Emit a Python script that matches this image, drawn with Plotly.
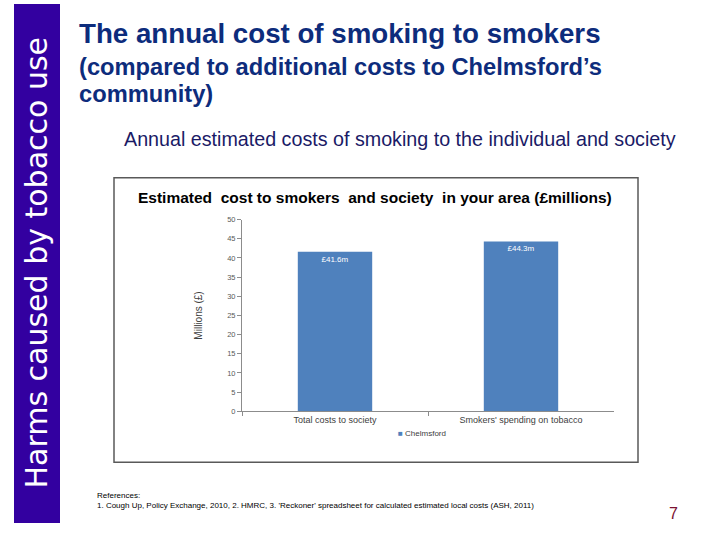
import plotly.graph_objects as go

categories = ["Total costs to society", "Smokers' spending on tobacco"]
values = [41.6, 44.3]
value_labels = ["£41.6m", "£44.3m"]
series_name = "Chelmsford"
y_ticks = [0, 5, 10, 15, 20, 25, 30, 35, 40, 45, 50]

W, H = 720, 540
def px(x): return x / W
def py(y): return 1 - ((y - 4) / 0.985) / H

BAR_COLOR = "#4F81BD"

fig = go.Figure()
fig.add_trace(go.Bar(
    x=categories, y=values, name=series_name,
    marker=dict(color=BAR_COLOR, line=dict(width=0)),
    width=0.4,
    text=value_labels, textposition="inside", insidetextanchor="end",
    textfont=dict(color="white", size=8, family="Liberation Sans"),
    showlegend=False,
))

font = "Liberation Sans, Arial, sans-serif"

fig.update_layout(
    width=W, height=H,
    margin=dict(l=0, r=0, t=0, b=0),
    paper_bgcolor="white", plot_bgcolor="white",
    font=dict(family=font),
    xaxis=dict(domain=[px(242), px(614)], showline=True, linecolor="#8c8c8c", linewidth=1,
               ticks="outside", tickson="boundaries", ticklen=4, tickcolor="#8c8c8c",
               tickfont=dict(size=9, color="#404040"), showgrid=False, fixedrange=True),
    yaxis=dict(domain=[py(412), py(220)], range=[0, 50], tickvals=y_ticks,
               showline=True, linecolor="#8c8c8c", linewidth=1, ticks="outside", ticklen=4,
               tickcolor="#8c8c8c", tickfont=dict(size=7.5, color="#595959"), showgrid=False,
               zeroline=False, fixedrange=True,
               title=dict(text="Millions (£)", font=dict(size=10, color="#404040"), standoff=22)),
    showlegend=False,
)

shapes = [
    dict(type="rect", xref="paper", yref="paper", x0=px(14), x1=px(60), y0=py(524), y1=1,
         fillcolor="#3300A0", line=dict(width=0), layer="below"),
    dict(type="rect", xref="paper", yref="paper", x0=px(114), x1=px(638), y0=py(463), y1=py(178),
         fillcolor="rgba(0,0,0,0)", line=dict(color="#595959", width=1.5)),
]
fig.update_layout(shapes=shapes)

annotations = [
    dict(text="Harms caused by tobacco use", x=px(37), y=py(263), textangle=-90,
         xanchor="center", yanchor="middle",
         font=dict(family="DejaVu Sans, Verdana, sans-serif", size=30, color="white")),
    dict(text="<b>The annual cost of smoking to smokers</b>", x=px(77), y=py(34),
         xanchor="left", yanchor="middle",
         font=dict(family=font, size=27.7, color="#0D2C7C")),
    dict(text="<b>(compared to additional costs to Chelmsford’s</b>", x=px(77), y=py(67),
         xanchor="left", yanchor="middle",
         font=dict(family=font, size=23.7, color="#0D2C7C")),
    dict(text="<b>community)</b>", x=px(77), y=py(94),
         xanchor="left", yanchor="middle",
         font=dict(family=font, size=23.7, color="#0D2C7C")),
    dict(text="Annual estimated costs of smoking to the individual and society", x=px(122), y=py(139),
         xanchor="left", yanchor="middle", font=dict(family=font, size=19.7, color="#1A1A66")),
    dict(text="<b>Estimated  cost to smokers  and society  in your area (£millions)</b>", x=px(375), y=py(198),
         xanchor="center", yanchor="middle",
         font=dict(family=font, size=15.5, color="black")),
    dict(text=f"<span style='color:{BAR_COLOR}'>■</span> {series_name}", x=px(396), y=py(434),
         xanchor="left", yanchor="middle", font=dict(family=font, size=8, color="#404040")),
    dict(text="References:<br>1. Cough Up, Policy Exchange, 2010, 2. HMRC, 3. 'Reckoner' spreadsheet for calculated estimated local costs (ASH, 2011)",
         x=px(95), y=py(501), xanchor="left", yanchor="middle", align="left",
         font=dict(family=font, size=8, color="black")),
    dict(text="7", x=px(673), y=py(514), xanchor="center", yanchor="middle",
         font=dict(family=font, size=16, color="#7B1030")),
]
for a in annotations:
    a.update(xref="paper", yref="paper", showarrow=False)
fig.update_layout(annotations=annotations)

fig.write_html("out.html", config={"displayModeBar": False},
               post_script="document.body.style.margin='0';document.body.style.overflow='hidden';")
